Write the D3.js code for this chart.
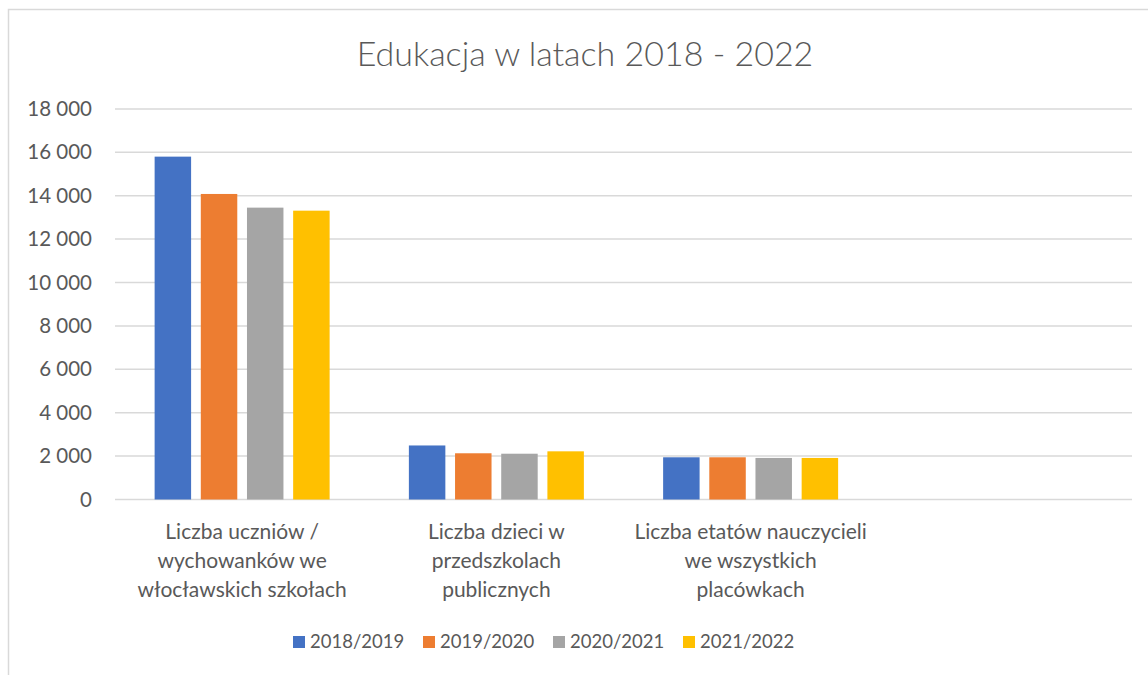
<!DOCTYPE html>
<html><head><meta charset="utf-8">
<script src="https://cdn.jsdelivr.net/npm/d3@7"></script>
<style>body{margin:0;background:#fff;} text{font-family:Lato,"Open Sans",sans-serif;fill:#595959;}</style>
</head><body><svg id="c" width="1148" height="675"></svg>
<script>
const categories = [
  ["Liczba uczniów /","wychowanków we","włocławskich szkołach"],
  ["Liczba dzieci w","przedszkolach","publicznych"],
  ["Liczba etatów nauczycieli","we wszystkich","placówkach"],
  [""]
];
const seriesNames = ["2018/2019","2019/2020","2020/2021","2021/2022"];
const s2018 = [15800, 2490, 1945, null];
const s2019 = [14080, 2130, 1945, null];
const s2020 = [13450, 2110, 1915, null];
const s2021 = [13310, 2220, 1915, null];
const colors = ["#4472c4","#ed7d31","#a5a5a5","#ffc000"];
const yTicks = [0,2000,4000,6000,8000,10000,12000,14000,16000,18000];
const title = "Edukacja w latach 2018 - 2022";

const series = [s2018,s2019,s2020,s2021];
const svg = d3.select("#c");
svg.append("rect").attr("x",8.5).attr("y",9.5).attr("width",1160).attr("height",700)
  .attr("fill","#fff").attr("stroke","#d9d9d9").attr("stroke-width",1.5);

const L=115,R=1132,T=108.9,B=499.5;
const x = d3.scaleBand().domain(d3.range(categories.length)).range([L,R]).paddingInner(0).paddingOuter(0);
const y = d3.scaleLinear().domain([0,18000]).range([B,T]);
const GW = 175;
const inner = d3.scaleBand().domain(d3.range(series.length)).range([0,GW]).paddingInner(0.21).paddingOuter(0);

svg.append("text").attr("x",585).attr("y",66).attr("text-anchor","middle")
  .style("font-size","34px").style("font-weight","300").text(title);

const g = svg.append("g");
g.selectAll("line.grid").data(yTicks).join("line")
  .attr("x1",L).attr("x2",R).attr("y1",d=>y(d)).attr("y2",d=>y(d))
  .attr("stroke","#d9d9d9").attr("stroke-width",1.5);
g.selectAll("text.yt").data(yTicks).join("text")
  .attr("x",92).attr("y",d=>y(d)).attr("dy","0.35em").attr("text-anchor","end")
  .style("font-size","20.5px").text(d=>d3.format(",")(d).replace(/,/g," "));

series.forEach((s,si)=>{
  g.selectAll("rect.s"+si).data(s.map((v,i)=>({v,i})).filter(d=>d.v!=null)).join("rect")
   .attr("x",d=>x(d.i)+x.bandwidth()/2-GW/2+inner(si))
   .attr("width",inner.bandwidth())
   .attr("y",d=>y(d.v)).attr("height",d=>B-y(d.v))
   .attr("fill",colors[si]);
});

categories.forEach((lines,i)=>{
  const t = g.append("text").attr("text-anchor","middle").style("font-size","21px");
  lines.forEach((ln,k)=>t.append("tspan").attr("x",x(i)+x.bandwidth()/2).attr("y",539+k*29).text(ln));
});

const lg = svg.append("g");
seriesNames.forEach((n,i)=>{
  const lx = 293 + i*130;
  lg.append("rect").attr("x",lx).attr("y",636).attr("width",12).attr("height",12).attr("fill",colors[i]);
  lg.append("text").attr("x",lx+17).attr("y",642).attr("dy","0.35em").style("font-size","18.5px").text(n);
});
</script></body></html>
